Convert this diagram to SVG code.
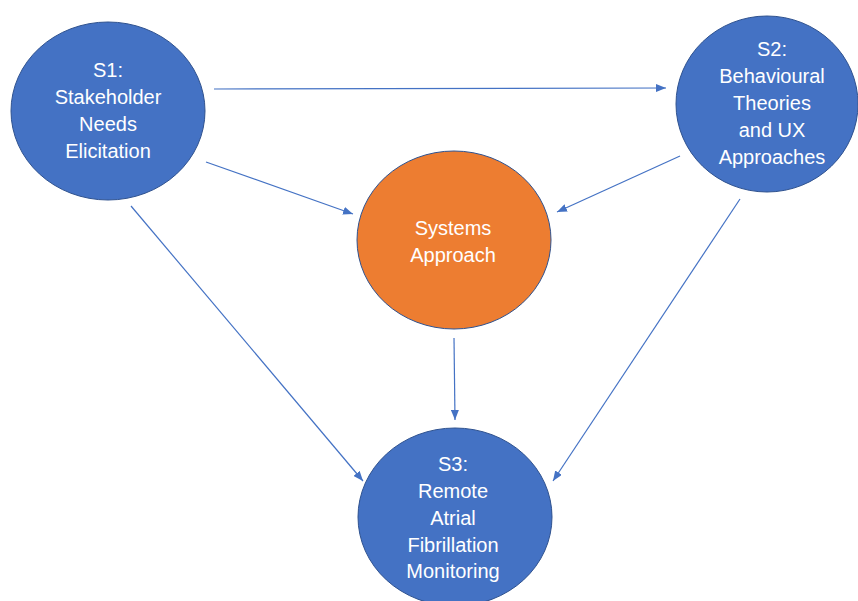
<svg xmlns="http://www.w3.org/2000/svg" width="858" height="601" viewBox="0 0 858 601">
  <style>
    .node { stroke: #2F528F; stroke-width: 1; }
    .blue { fill: #4472C4; }
    .orange { fill: #ED7D31; }
    .label { fill: #FFFFFF; font-family: "Liberation Sans", Arial, sans-serif; font-size: 20px; text-anchor: middle; }
    .edge { stroke: #4472C4; stroke-width: 1.2; fill: none; marker-end: url(#arrow); }
  </style>
  <defs>
    <marker id="arrow" markerUnits="userSpaceOnUse" markerWidth="10" markerHeight="8" refX="10" refY="4" orient="auto">
      <path d="M0,0 L10,4 L0,8 Z" fill="#4472C4"/>
    </marker>
  </defs>
  <rect width="858" height="601" fill="#FFFFFF"/>

  <g id="connectors">
    <line class="edge" x1="214" y1="89" x2="666" y2="88"/>
    <line class="edge" x1="206" y1="162" x2="353" y2="214"/>
    <line class="edge" x1="680" y1="156" x2="557" y2="212"/>
    <line class="edge" x1="131" y1="206" x2="363" y2="481"/>
    <line class="edge" x1="740" y1="199" x2="553" y2="481"/>
    <line class="edge" x1="454" y1="338" x2="455" y2="420"/>
  </g>

  <g id="s1">
    <ellipse class="node blue" cx="108" cy="111" rx="97" ry="89"/>
    <text class="label" x="108" y="77">S1:</text>
    <text class="label" x="108" y="104">Stakeholder</text>
    <text class="label" x="108" y="131">Needs</text>
    <text class="label" x="108" y="158">Elicitation</text>
  </g>

  <g id="s2">
    <ellipse class="node blue" cx="767" cy="104" rx="91" ry="88"/>
    <text class="label" x="772" y="56">S2:</text>
    <text class="label" x="772" y="83">Behavioural</text>
    <text class="label" x="772" y="110">Theories</text>
    <text class="label" x="772" y="137">and UX</text>
    <text class="label" x="772" y="164">Approaches</text>
  </g>

  <g id="systems-approach">
    <ellipse class="node orange" cx="454" cy="240" rx="97" ry="89"/>
    <text class="label" x="453" y="235">Systems</text>
    <text class="label" x="453" y="262">Approach</text>
  </g>

  <g id="s3">
    <ellipse class="node blue" cx="455" cy="517" rx="97" ry="89"/>
    <text class="label" x="453" y="471">S3:</text>
    <text class="label" x="453" y="498">Remote</text>
    <text class="label" x="453" y="525">Atrial</text>
    <text class="label" x="453" y="552">Fibrillation</text>
    <text class="label" x="453" y="578">Monitoring</text>
  </g>
</svg>
